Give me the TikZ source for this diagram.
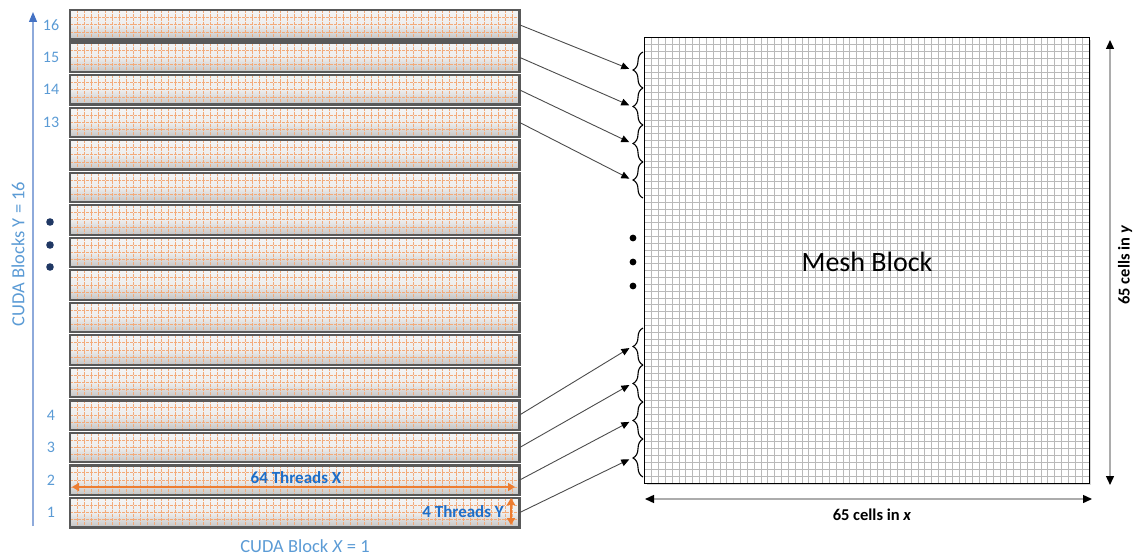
\documentclass[tikz,border=0pt]{standalone}
\usepackage{fontspec}
\setmainfont{Carlito}
\usepackage{xcolor}
\usetikzlibrary{decorations.pathreplacing,arrows.meta,calc}
\definecolor{cudablue}{RGB}{91,155,213}
\definecolor{axisblue}{RGB}{142,170,219}
\definecolor{tipblue}{RGB}{68,114,196}
\definecolor{threadblue}{RGB}{30,110,200}
\definecolor{threadorange}{RGB}{237,125,49}
\definecolor{dotnavy}{RGB}{32,56,100}
\tikzset{>=stealth}
\tikzset{
  cudablock/.style={top color=gray!8,bottom color=gray!45,middle color=gray!14,
    minimum width=449pt,minimum height=29pt,inner sep=0pt,anchor=north west},
  blockedge/.style={draw=black!65,line width=2.2pt},
  threadline/.style={draw=threadorange!65,line width=0.55pt,dash pattern=on 3pt off 1pt},
  cudanum/.style={text=cudablue,font=\fontsize{16}{19}\selectfont,inner sep=0pt},
  cudalabel/.style={text=cudablue,font=\fontsize{18.5}{22}\selectfont,inner sep=0pt},
  cudaaxis/.style={draw=axisblue,line width=1.2pt,-{Triangle[length=10pt,width=8pt,tipblue]}},
  threadlabel/.style={text=threadblue,font=\bfseries\fontsize{17}{20}\selectfont,inner sep=0pt},
  threadarrow/.style={draw=threadorange,line width=1.6pt,
    {Triangle[length=7pt,width=8pt]}-{Triangle[length=7pt,width=8pt]}},
  meshbox/.style={minimum width=444pt,minimum height=445pt,inner sep=0pt,fill=white},
  meshline/.style={draw=gray!55,line width=0.8pt},
  meshbrace/.style={draw=black,line width=1.1pt,decorate,decoration={brace,amplitude=10pt}},
  feed/.style={draw=black!70,line width=0.9pt,-{Triangle[length=8pt,width=7pt,black]},shorten >=3pt},
  sizearrow/.style={draw=gray!65,line width=1.4pt,
    {Triangle[length=9pt,width=8pt,black]}-{Triangle[length=9pt,width=8pt,black]}},
  sizelabel/.style={font=\bfseries\fontsize{16.5}{19}\selectfont,inner sep=0pt},
}

\begin{document}
\begin{tikzpicture}[x=1pt,y=-1pt]
    \useasboundingbox (0,0) rectangle (1135,556);
    \foreach \k [evaluate=\k as \ytop using {498-(\k-1)*32.53}] in {1,...,16} {
        \node[cudablock] (b\k) at (70,\ytop) {};
        \foreach \i in {1,...,63}
            \draw[threadline] ($(b\k.north west)+(\i*7.0156,0)$) -- ++(0,29);
        \foreach \j in {1,2,3}
            \draw[threadline] ($(b\k.north west)+(0,\j*7.25)$) -- ++(449,0);
        \draw[blockedge] (b\k.north west) rectangle (b\k.south east);
    }
    \foreach \k in {1,2,3,4,13,14,15,16}
        \node[cudanum] (n\k) at ($(b\k.west)+(-19,0)$) {\k};
    \coordinate (ybot) at (33,526);
    \coordinate (ytop) at (33,12);
    \draw[cudaaxis] (ybot) -- (ytop);
    \node[cudalabel,rotate=90] (ylab) at (18,254) {CUDA Blocks Y = 16};
    \node[cudalabel] (xlab) at (305,546) {CUDA Block \textit{X} = 1};
    \foreach \y in {222,245,267}
        \fill[dotnavy] (50,\y) circle (3.8);

    \coordinate (txl) at (72,487);
    \coordinate (txr) at (515,487);
    \draw[threadarrow] (txl) -- (txr);
    \node[threadlabel] (tx) at (296,478) {64 Threads X};
    \coordinate (tyt) at (511,498);
    \coordinate (tyb) at (511,525);
    \draw[threadarrow] (tyt) -- (tyb);
    \node[threadlabel,anchor=east] (ty) at (504,512) {4 Threads Y};

    \fill[gray!30] (647,40) rectangle (1091,485);
    \node[meshbox] (mesh) at (867,260.5) {};
    \foreach \i in {1,...,64} {
        \draw[meshline] ($(mesh.north west)+(\i*6.8308,0)$) -- ($(mesh.south west)+(\i*6.8308,0)$);
        \draw[meshline] ($(mesh.north west)+(0,\i*6.8462)$) -- ($(mesh.north east)+(0,\i*6.8462)$);
    }
    \draw[line width=1.3pt] (mesh.north west) rectangle (mesh.south east);
    \node[font=\fontsize{28}{32}\selectfont] (meshlabel) at (867,262) {Mesh Block};
    \foreach \y in {238,262,286}
        \fill (633,\y) circle (3.4);

    \foreach \k/\lo/\hi in {16/52/88,15/88/125,14/125/162,13/162/198,4/328/365,3/365/402,2/402/439,1/439/477} {
        \draw[meshbrace] (643,\hi) -- (643,\lo);
        \coordinate (t\k) at (632,{(\lo+\hi)/2});
        \draw[feed] (b\k.east) -- (t\k);
    }

    \coordinate (mxl) at (645,499);
    \coordinate (mxr) at (1092,499);
    \draw[sizearrow] (mxl) -- (mxr);
    \node[sizelabel] (mxlab) at (872,515) {65 cells in \textit{x}};
    \coordinate (myt) at (1110,40);
    \coordinate (myb) at (1110,485);
    \draw[sizearrow] (myt) -- (myb);
    \node[sizelabel,rotate=90] (mylab) at (1125,265) {65 cells in \textit{y}};
\end{tikzpicture}
\end{document}
